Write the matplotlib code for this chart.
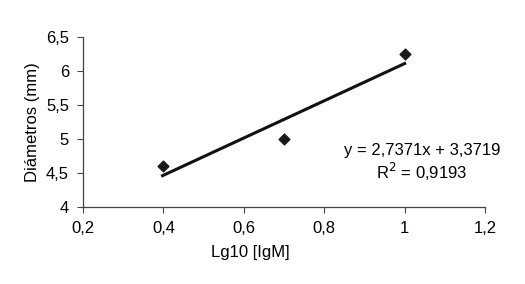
import matplotlib
matplotlib.use("Agg")
import matplotlib.pyplot as plt
import numpy as np
from matplotlib.ticker import FuncFormatter, MultipleLocator

plt.rcParams["font.family"] = ["Liberation Sans", "DejaVu Sans"]

# data
lg_igm = [0.398, 0.699, 1.0]
diametros = [4.6, 5.0, 6.25]
slope = 2.7371
intercept = 3.3719
r2 = 0.9193


def comma(v, _pos=None):
    return f"{v:g}".replace(".", ",")


fig = plt.figure(figsize=(5.25, 2.84), dpi=100)
ax = fig.add_axes([0.158, 0.271, 0.766, 0.599])

fit_x = np.array([min(lg_igm), max(lg_igm)])
ax.plot(fit_x, slope * fit_x + intercept, color="#111111", linewidth=2.2, zorder=2)
ax.scatter(lg_igm, diametros, marker="D", s=30, color="#1a1a1a", zorder=3)

ax.set_xlim(0.2, 1.2)
ax.set_ylim(4, 6.5)
ax.xaxis.set_major_locator(MultipleLocator(0.2))
ax.yaxis.set_major_locator(MultipleLocator(0.5))
ax.xaxis.set_major_formatter(FuncFormatter(comma))
ax.yaxis.set_major_formatter(FuncFormatter(comma))
ax.tick_params(labelsize=12, length=4, width=0.8, color="#444444", pad=6)
for spine in ["top", "right"]:
    ax.spines[spine].set_visible(False)
for spine in ["left", "bottom"]:
    ax.spines[spine].set_color("#444444")
    ax.spines[spine].set_linewidth(0.9)

fig.text(32 / 525, 1 - 122 / 284, "Diámetros (mm)", rotation=90,
         ha="center", va="center", fontsize=12)
fig.text(250 / 525, 1 - 253 / 284, "Lg10 [IgM]", ha="center", va="center", fontsize=12)

eq = f"y = {comma(slope)}x + {comma(intercept)}"
fig.text(422 / 525, 1 - 150 / 284, eq, ha="center", va="center", fontsize=12)
fig.text(422 / 525, 1 - 172 / 284, f"R$^2$ = {comma(r2)}", ha="center", va="center",
         fontsize=12)

fig.savefig("out.png", dpi=100, facecolor="white")
